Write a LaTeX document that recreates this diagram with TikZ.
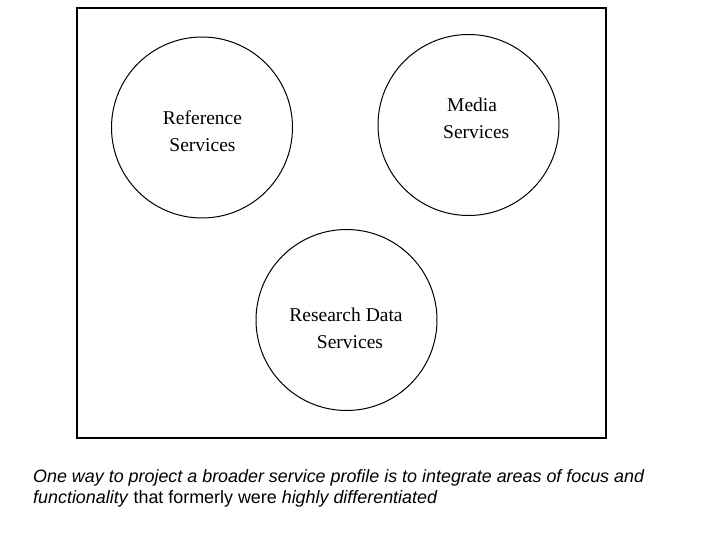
\documentclass[tikz,border=0pt]{standalone}
\usepackage{fontspec}
\setmainfont{Liberation Serif}
\newfontfamily\capfont{Liberation Sans}
\begin{document}
\begin{tikzpicture}[x=1pt,y=1pt,
  svc/.style={circle, draw=black, line width=1pt, minimum size=181pt, inner sep=0pt},
  lbl/.style={anchor=base, inner sep=0pt, font=\fontsize{19.5}{27}\selectfont},
  caption/.style={anchor=base west, inner sep=0pt, font=\capfont\fontsize{17.9}{21}\selectfont}]
\useasboundingbox (0,0) rectangle (720,-540);
\node[draw=black, line width=1.6pt, minimum width=529pt, minimum height=430pt, inner sep=0pt, anchor=north west] (frame) at (76,-7) {};
\node[svc] (ref) at (202,-127.5) {};
\node[svc] (med) at (468.5,-125) {};
\node[svc] (rds) at (346.5,-320) {};
\node[lbl] (ref1) at (202.5,-125) {Reference};
\node[lbl] (ref2) at (202.5,-152) {Services};
\node[lbl, anchor=base west] (med1) at (447,-112) {Media};
\node[lbl, anchor=base west] (med2) at (443,-139) {Services};
\node[lbl] (rds1) at (346,-321) {Research Data};
\node[lbl] (rds2) at (350,-348) {Services};
\node[caption] (cap1) at (33,-482) {\itshape One way to project a broader service profile is to integrate areas of focus and};
\node[caption] (cap2) at (33,-503) {\itshape functionality\/ \upshape that formerly were \itshape highly differentiated};
\end{tikzpicture}
\end{document}
